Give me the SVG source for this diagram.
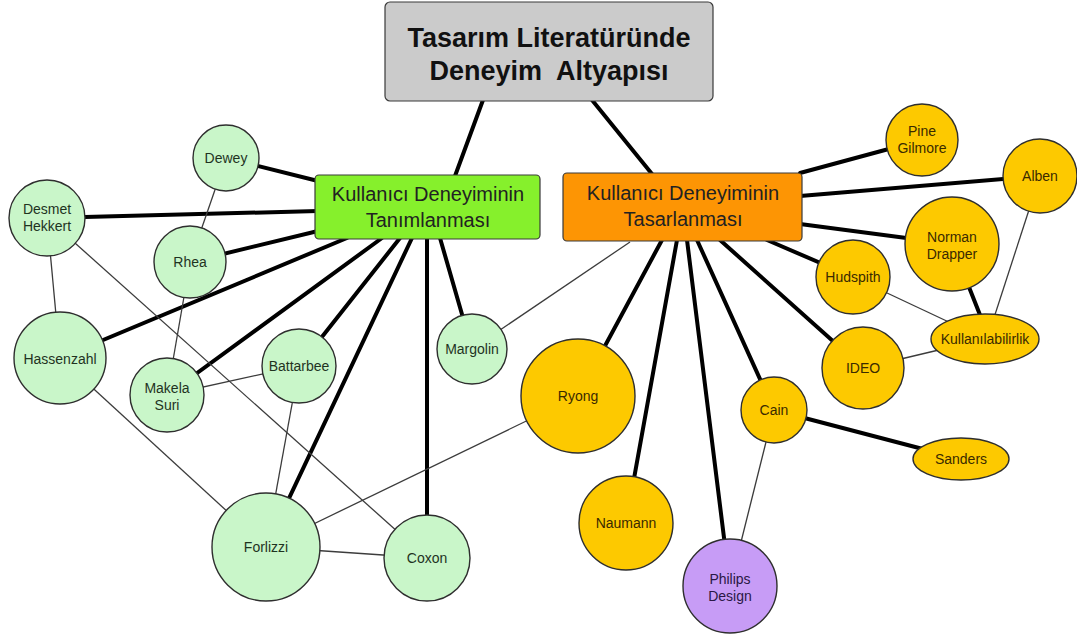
<svg xmlns="http://www.w3.org/2000/svg" width="1077" height="637" viewBox="0 0 1077 637">
  <style>
    .bg { fill: #ffffff; }
    .box { stroke: #3a3a3a; stroke-width: 1.2; }
    .title-box { fill: #cbcbcb; }
    .green-box { fill: #86f02c; }
    .orange-box { fill: #fd9504; }
    .node { stroke: #2e2e2e; stroke-width: 1.4; }
    .mint { fill: #c9f6c9; }
    .gold { fill: #fdc900; }
    .violet { fill: #c79cf6; }
    .thick { stroke: #000000; stroke-width: 4; fill: none; stroke-linecap: round; }
    .thin { stroke: #3c3c3c; stroke-width: 1.3; fill: none; }
    text { font-family: "Liberation Sans", Arial, sans-serif; text-anchor: middle; fill: #222222; }
    .lbl { font-size: 14px; }
    .hub { font-size: 20px; }
    .title { font-size: 27px; font-weight: bold; fill: #111111; white-space: pre; }
    .mint-t { fill: #1f331f; }
    .gold-t { fill: #3a2a00; }
    .violet-t { fill: #2a1845; }
  </style>

  <rect class="bg" x="0" y="0" width="1077" height="637"/>

  <!-- connectors -->
  <g id="connectors">
    <!-- root to the two hubs -->
    <line class="thick" x1="483" y1="100" x2="455" y2="176"/>
    <line class="thick" x1="592" y1="100" x2="652" y2="174"/>

    <!-- definition hub -->
    <line class="thick" x1="226" y1="158" x2="318" y2="181"/>
    <line class="thick" x1="47" y1="218" x2="318" y2="211"/>
    <line class="thick" x1="190" y1="262" x2="318" y2="231"/>
    <line class="thick" x1="60" y1="358" x2="347" y2="238"/>
    <line class="thick" x1="167" y1="395" x2="382" y2="238"/>
    <line class="thick" x1="299" y1="366" x2="400" y2="238"/>
    <line class="thick" x1="266" y1="547" x2="412" y2="238"/>
    <line class="thick" x1="427" y1="238" x2="427" y2="558"/>
    <line class="thick" x1="440" y1="238" x2="472" y2="349"/>

    <!-- design hub -->
    <line class="thick" x1="800" y1="173" x2="922" y2="140"/>
    <line class="thick" x1="800" y1="196" x2="1040" y2="176"/>
    <line class="thick" x1="800" y1="224" x2="952" y2="244"/>
    <line class="thick" x1="767" y1="240" x2="853" y2="277"/>
    <line class="thick" x1="720" y1="240" x2="863" y2="368"/>
    <line class="thick" x1="697" y1="240" x2="774" y2="410"/>
    <line class="thick" x1="687" y1="240" x2="730" y2="586"/>
    <line class="thick" x1="677" y1="240" x2="626" y2="523"/>
    <line class="thick" x1="662" y1="240" x2="578" y2="396"/>
    <line class="thin" x1="630" y1="242" x2="472" y2="349"/>

    <!-- links between definition nodes -->
    <line class="thin" x1="226" y1="158" x2="190" y2="262"/>
    <line class="thin" x1="47" y1="218" x2="60" y2="358"/>
    <line class="thin" x1="47" y1="218" x2="427" y2="558"/>
    <line class="thin" x1="190" y1="262" x2="167" y2="395"/>
    <line class="thin" x1="60" y1="358" x2="266" y2="547"/>
    <line class="thin" x1="167" y1="395" x2="299" y2="366"/>
    <line class="thin" x1="299" y1="366" x2="266" y2="547"/>
    <line class="thin" x1="266" y1="547" x2="427" y2="558"/>
    <line class="thin" x1="266" y1="547" x2="578" y2="396"/>

    <!-- links between design nodes -->
    <line class="thin" x1="1040" y1="176" x2="990" y2="330"/>
    <line class="thick" x1="952" y1="244" x2="982" y2="320"/>
    <line class="thin" x1="853" y1="277" x2="985" y2="339"/>
    <line class="thin" x1="863" y1="368" x2="985" y2="339"/>
    <line class="thick" x1="774" y1="410" x2="961" y2="459"/>
    <line class="thin" x1="774" y1="410" x2="730" y2="586"/>
  </g>

  <!-- root -->
  <g id="root">
    <rect class="box title-box" x="385" y="2" width="328" height="99" rx="5"/>
    <text class="title" x="549" y="47">Tasarım Literatüründe</text>
    <text class="title" x="549" y="80">Deneyim  Altyapısı</text>
  </g>

  <!-- hubs -->
  <g id="hub-definition">
    <rect class="box green-box" x="315" y="175" width="225" height="64" rx="4"/>
    <text class="hub" x="428" y="201">Kullanıcı Deneyiminin</text>
    <text class="hub" x="428" y="227">Tanımlanması</text>
  </g>
  <g id="hub-design">
    <rect class="box orange-box" x="563" y="173" width="239" height="68" rx="4"/>
    <text class="hub" x="683" y="200">Kullanıcı Deneyiminin</text>
    <text class="hub" x="683" y="226">Tasarlanması</text>
  </g>

  <!-- definition nodes -->
  <g id="dewey">
    <circle class="node mint" cx="226" cy="158" r="33"/>
    <text class="lbl mint-t" x="226" y="163">Dewey</text>
  </g>
  <g id="desmet-hekkert">
    <circle class="node mint" cx="47" cy="218" r="38"/>
    <text class="lbl mint-t" x="47" y="214">Desmet</text>
    <text class="lbl mint-t" x="47" y="231">Hekkert</text>
  </g>
  <g id="rhea">
    <circle class="node mint" cx="190" cy="262" r="36"/>
    <text class="lbl mint-t" x="190" y="267">Rhea</text>
  </g>
  <g id="hassenzahl">
    <circle class="node mint" cx="60" cy="358" r="46"/>
    <text class="lbl mint-t" x="60" y="364">Hassenzahl</text>
  </g>
  <g id="makela-suri">
    <circle class="node mint" cx="167" cy="395" r="37"/>
    <text class="lbl mint-t" x="167" y="393">Makela</text>
    <text class="lbl mint-t" x="167" y="410">Suri</text>
  </g>
  <g id="battarbee">
    <circle class="node mint" cx="299" cy="366" r="37"/>
    <text class="lbl mint-t" x="299" y="371">Battarbee</text>
  </g>
  <g id="margolin">
    <circle class="node mint" cx="472" cy="349" r="35"/>
    <text class="lbl mint-t" x="472" y="354">Margolin</text>
  </g>
  <g id="forlizzi">
    <circle class="node mint" cx="266" cy="547" r="54"/>
    <text class="lbl mint-t" x="266" y="552">Forlizzi</text>
  </g>
  <g id="coxon">
    <circle class="node mint" cx="427" cy="558" r="43"/>
    <text class="lbl mint-t" x="427" y="563">Coxon</text>
  </g>

  <!-- design nodes -->
  <g id="pine-gilmore">
    <circle class="node gold" cx="922" cy="140" r="36"/>
    <text class="lbl gold-t" x="922" y="136">Pine</text>
    <text class="lbl gold-t" x="922" y="153">Gilmore</text>
  </g>
  <g id="alben">
    <circle class="node gold" cx="1040" cy="176" r="37"/>
    <text class="lbl gold-t" x="1040" y="181">Alben</text>
  </g>
  <g id="norman-drapper">
    <circle class="node gold" cx="952" cy="244" r="47"/>
    <text class="lbl gold-t" x="952" y="242">Norman</text>
    <text class="lbl gold-t" x="952" y="259">Drapper</text>
  </g>
  <g id="hudspith">
    <circle class="node gold" cx="853" cy="277" r="37"/>
    <text class="lbl gold-t" x="853" y="282">Hudspith</text>
  </g>
  <g id="kullanilabilirlik">
    <ellipse class="node gold" cx="985" cy="339" rx="54" ry="25"/>
    <text class="lbl gold-t" x="985" y="344">Kullanılabilirlik</text>
  </g>
  <g id="ideo">
    <circle class="node gold" cx="863" cy="368" r="41"/>
    <text class="lbl gold-t" x="863" y="373">IDEO</text>
  </g>
  <g id="cain">
    <circle class="node gold" cx="774" cy="410" r="33"/>
    <text class="lbl gold-t" x="774" y="415">Cain</text>
  </g>
  <g id="sanders">
    <ellipse class="node gold" cx="961" cy="459" rx="48" ry="21"/>
    <text class="lbl gold-t" x="961" y="464">Sanders</text>
  </g>
  <g id="ryong">
    <circle class="node gold" cx="578" cy="396" r="57"/>
    <text class="lbl gold-t" x="578" y="401">Ryong</text>
  </g>
  <g id="naumann">
    <circle class="node gold" cx="626" cy="523" r="47"/>
    <text class="lbl gold-t" x="626" y="528">Naumann</text>
  </g>
  <g id="philips-design">
    <circle class="node violet" cx="730" cy="586" r="47"/>
    <text class="lbl violet-t" x="730" y="584">Philips</text>
    <text class="lbl violet-t" x="730" y="601">Design</text>
  </g>
</svg>
